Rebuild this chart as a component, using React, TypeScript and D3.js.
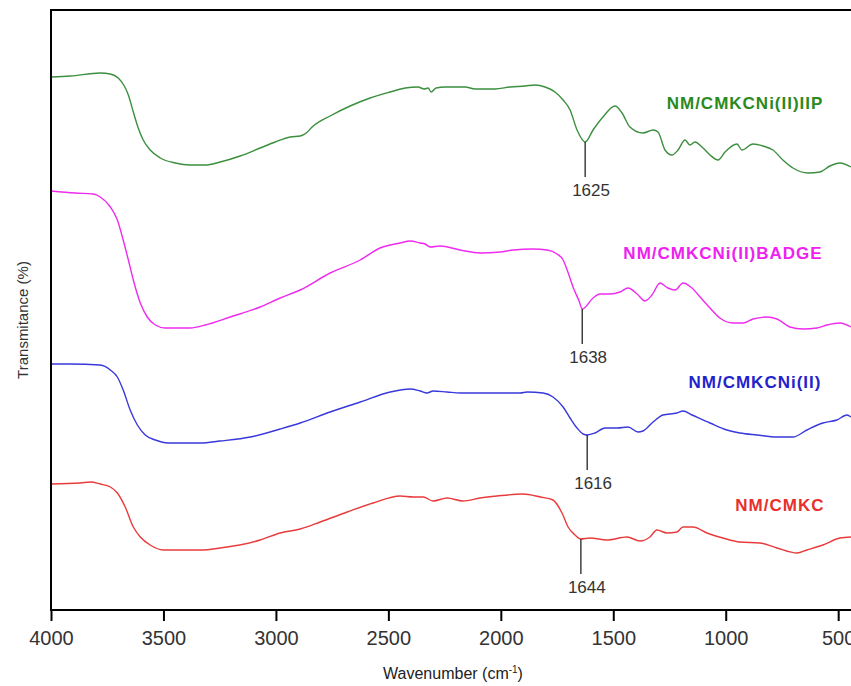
import { useEffect, useRef } from 'react'
import * as d3 from 'd3'

// [wavenumber (cm-1), transmittance (offset, arb. units)]
const nmCmkcNiIIP: [number, number][] = [
  [4000, 533], [3914, 534], [3781, 537], [3736, 536], [3701, 532], [3674, 524], [3656, 515],
  [3634, 498], [3612, 482], [3590, 470], [3559, 460], [3514, 452], [3448, 447], [3381, 445],
  [3314, 445], [3248, 448], [3159, 454], [3070, 462], [3003, 468], [2936, 473], [2892, 474],
  [2865, 477], [2839, 483], [2759, 494], [2670, 504], [2581, 512], [2492, 518], [2425, 522],
  [2368, 523], [2341, 521], [2323, 522], [2310, 518], [2288, 522], [2248, 523], [2159, 523],
  [2114, 521], [2025, 521], [1959, 523], [1892, 524], [1848, 525], [1803, 523], [1759, 518],
  [1723, 510], [1692, 500], [1661, 480], [1625, 468], [1590, 480], [1546, 493], [1492, 504],
  [1461, 497], [1426, 483], [1368, 477], [1323, 480], [1301, 478], [1270, 460], [1239, 455],
  [1212, 460], [1181, 470], [1159, 465], [1137, 468], [1101, 462], [1070, 455], [1034, 450],
  [1003, 458], [950, 466], [928, 460], [879, 466], [834, 464], [790, 460], [746, 450],
  [701, 442], [634, 437], [581, 438], [537, 444], [492, 447], [443, 443]
]

const nmCmkcNiBadge: [number, number][] = [
  [4000, 419], [3892, 417], [3812, 416], [3781, 413], [3736, 403], [3705, 390], [3679, 370],
  [3656, 350], [3634, 330], [3603, 307], [3572, 293], [3536, 285], [3492, 282], [3381, 282],
  [3314, 285], [3203, 293], [3070, 303], [2981, 312], [2892, 320], [2759, 337], [2625, 350],
  [2537, 362], [2448, 367], [2403, 369], [2359, 367], [2337, 366], [2314, 363], [2270, 364],
  [2181, 360], [2092, 357], [2003, 358], [1945, 360], [1857, 361], [1794, 360], [1750, 356],
  [1723, 350], [1705, 340], [1679, 323], [1652, 309], [1638, 301], [1590, 312], [1559, 316],
  [1514, 316], [1470, 318], [1434, 322], [1394, 316], [1359, 309], [1328, 315], [1292, 327],
  [1257, 322], [1225, 320], [1190, 327], [1150, 322], [1114, 313], [1070, 302], [1026, 292],
  [968, 287], [923, 287], [879, 291], [817, 293], [772, 291], [714, 283], [657, 281],
  [594, 282], [550, 285], [492, 287], [443, 283]
]

const nmCmkcNi: [number, number][] = [
  [4000, 246], [3914, 246], [3781, 245], [3736, 240], [3705, 233], [3679, 220], [3648, 200],
  [3616, 185], [3581, 175], [3536, 170], [3479, 167], [3336, 167], [3248, 169], [3114, 173],
  [2981, 181], [2892, 187], [2759, 198], [2625, 208], [2492, 218], [2403, 221], [2359, 219],
  [2328, 217], [2301, 219], [2239, 218], [2181, 217], [2092, 217], [1914, 217], [1883, 218],
  [1812, 217], [1768, 213], [1723, 203], [1692, 192], [1661, 182], [1634, 176], [1616, 175],
  [1581, 177], [1537, 182], [1483, 182], [1434, 183], [1390, 178], [1368, 179], [1323, 188],
  [1279, 195], [1217, 197], [1190, 199], [1150, 195], [1070, 187], [995, 180], [937, 177],
  [861, 175], [772, 173], [701, 173], [639, 180], [568, 187], [506, 190], [461, 195], [443, 193]
]

const nmCmkc: [number, number][] = [
  [4000, 126], [3870, 127], [3825, 128], [3781, 126], [3736, 123], [3705, 117], [3670, 103],
  [3634, 83], [3603, 73], [3559, 65], [3501, 60], [3336, 60], [3248, 62], [3070, 70],
  [2981, 77], [2892, 81], [2803, 88], [2683, 98], [2568, 107], [2448, 114], [2390, 113],
  [2345, 113], [2301, 109], [2239, 112], [2168, 109], [2092, 112], [2017, 114], [1901, 116],
  [1825, 113], [1768, 110], [1728, 97], [1701, 83], [1670, 75], [1644, 71], [1603, 72],
  [1528, 70], [1439, 73], [1381, 69], [1337, 73], [1306, 80], [1261, 77], [1217, 78],
  [1190, 83], [1146, 83], [1083, 77], [1012, 72], [937, 68], [848, 67], [772, 62],
  [683, 57], [639, 60], [568, 65], [492, 72], [443, 73]
]

const seriesNames = ['NM/CMKCNi(II)IIP', 'NM/CMKCNi(II)BADGE', 'NM/CMKCNi(II)', 'NM/CMKC']
const seriesData = [nmCmkcNiIIP, nmCmkcNiBadge, nmCmkcNi, nmCmkc]
const lineColors = ['#3b8f3e', '#ee2bee', '#3838dc', '#e83b3b']
const labelColors = ['#2a8a22', '#ee22ee', '#2323cc', '#e8302c']
// label anchor: [wavenumber, transmittance]
const labelAnchors: [number, number][] = [[914, 501], [1012, 351], [870, 222], [759, 99]]
// band assignments: [wavenumber, transmittance at band]
const peaks: [number, number][] = [[1625, 468], [1638, 301], [1616, 175], [1644, 71]]

const majorTicks = [4000, 3500, 3000, 2500, 2000, 1500, 1000, 500]
const minorTicks = [3750, 3250, 2750, 2250, 1750, 1250, 750]

export default function App() {
  const svgRef = useRef<SVGSVGElement>(null)

  useEffect(() => {
    if (!svgRef.current) return
    const svg = d3.select(svgRef.current)
    svg.selectAll('*').remove()

    const width = 851
    const height = 686
    const left = 51
    const top = 10
    const bottom = 610

    const x = d3.scaleLinear().domain([4000, 443]).range([left, width])
    const y = d3.scaleLinear().domain([0, 600]).range([bottom, top])

    const font = "'Liberation Sans', Arial, sans-serif"

    const line = d3
      .line<[number, number]>()
      .x(d => x(d[0]))
      .y(d => y(d[1]))
      .curve(d3.curveMonotoneX)

    // spectra
    seriesData.forEach((s, i) => {
      svg.append('path')
        .datum(s)
        .attr('fill', 'none')
        .attr('stroke', lineColors[i])
        .attr('stroke-width', 1.4)
        .attr('d', line)
    })

    // band markers
    peaks.forEach(p => {
      const px = x(p[0])
      const py = y(p[1])
      svg.append('line')
        .attr('x1', px).attr('x2', px)
        .attr('y1', py).attr('y2', py + 35)
        .attr('stroke', '#222')
        .attr('stroke-width', 1.3)
      svg.append('text')
        .attr('x', px - 13)
        .attr('y', py + 54)
        .attr('font-family', font)
        .attr('font-size', 17)
        .attr('fill', '#333')
        .text(String(p[0]))
    })

    // series labels
    seriesNames.forEach((name, i) => {
      svg.append('text')
        .attr('x', x(labelAnchors[i][0]))
        .attr('y', y(labelAnchors[i][1]))
        .attr('text-anchor', 'middle')
        .attr('font-family', font)
        .attr('font-size', 17)
        .attr('font-weight', 'bold')
        .attr('letter-spacing', 1)
        .attr('fill', labelColors[i])
        .text(name)
    })

    // frame: top border and left axis
    svg.append('line')
      .attr('x1', left).attr('x2', width)
      .attr('y1', top).attr('y2', top)
      .attr('stroke', '#000').attr('stroke-width', 2)
    svg.append('line')
      .attr('x1', left).attr('x2', left)
      .attr('y1', top - 1).attr('y2', bottom + 1)
      .attr('stroke', '#000').attr('stroke-width', 2)

    // x axis
    const gx = svg.append('g').attr('transform', `translate(0,${bottom})`)
    gx.call(
      d3.axisBottom(x).tickValues(minorTicks).tickSize(6).tickFormat(() => '')
    )
    gx.call(
      d3.axisBottom(x).tickValues(majorTicks).tickSize(11).tickPadding(10).tickFormat(d3.format('d'))
    )
    gx.selectAll('.domain').remove()
    gx.append('line')
      .attr('x1', left - 1).attr('x2', width)
      .attr('stroke', '#000').attr('stroke-width', 2)
    gx.selectAll('.tick line').attr('stroke', '#000').attr('stroke-width', 2)
    gx.selectAll('.tick text')
      .attr('font-family', font)
      .attr('font-size', 20)
      .attr('fill', '#333')

    // axis titles
    const xt = svg.append('text')
      .attr('x', 453)
      .attr('y', 679)
      .attr('text-anchor', 'middle')
      .attr('font-family', font)
      .attr('font-size', 16)
      .attr('fill', '#222')
    xt.append('tspan').text('Wavenumber (cm')
    xt.append('tspan').attr('font-size', 10).attr('dy', -6).text('-1')
    xt.append('tspan').attr('dy', 6).text(')')

    svg.append('text')
      .attr('transform', `translate(22,${(top + bottom) / 2 + 10}) rotate(-90)`)
      .attr('text-anchor', 'middle')
      .attr('dominant-baseline', 'central')
      .attr('font-family', font)
      .attr('font-size', 15)
      .attr('fill', '#333')
      .text('Transmitance (%)')

    svg.attr('viewBox', `0 0 ${width} ${height}`)
  }, [])

  return (
    <svg
      ref={svgRef}
      width={851}
      height={686}
      style={{ position: 'absolute', left: 0, top: 0, background: '#fff' }}
    />
  )
}
